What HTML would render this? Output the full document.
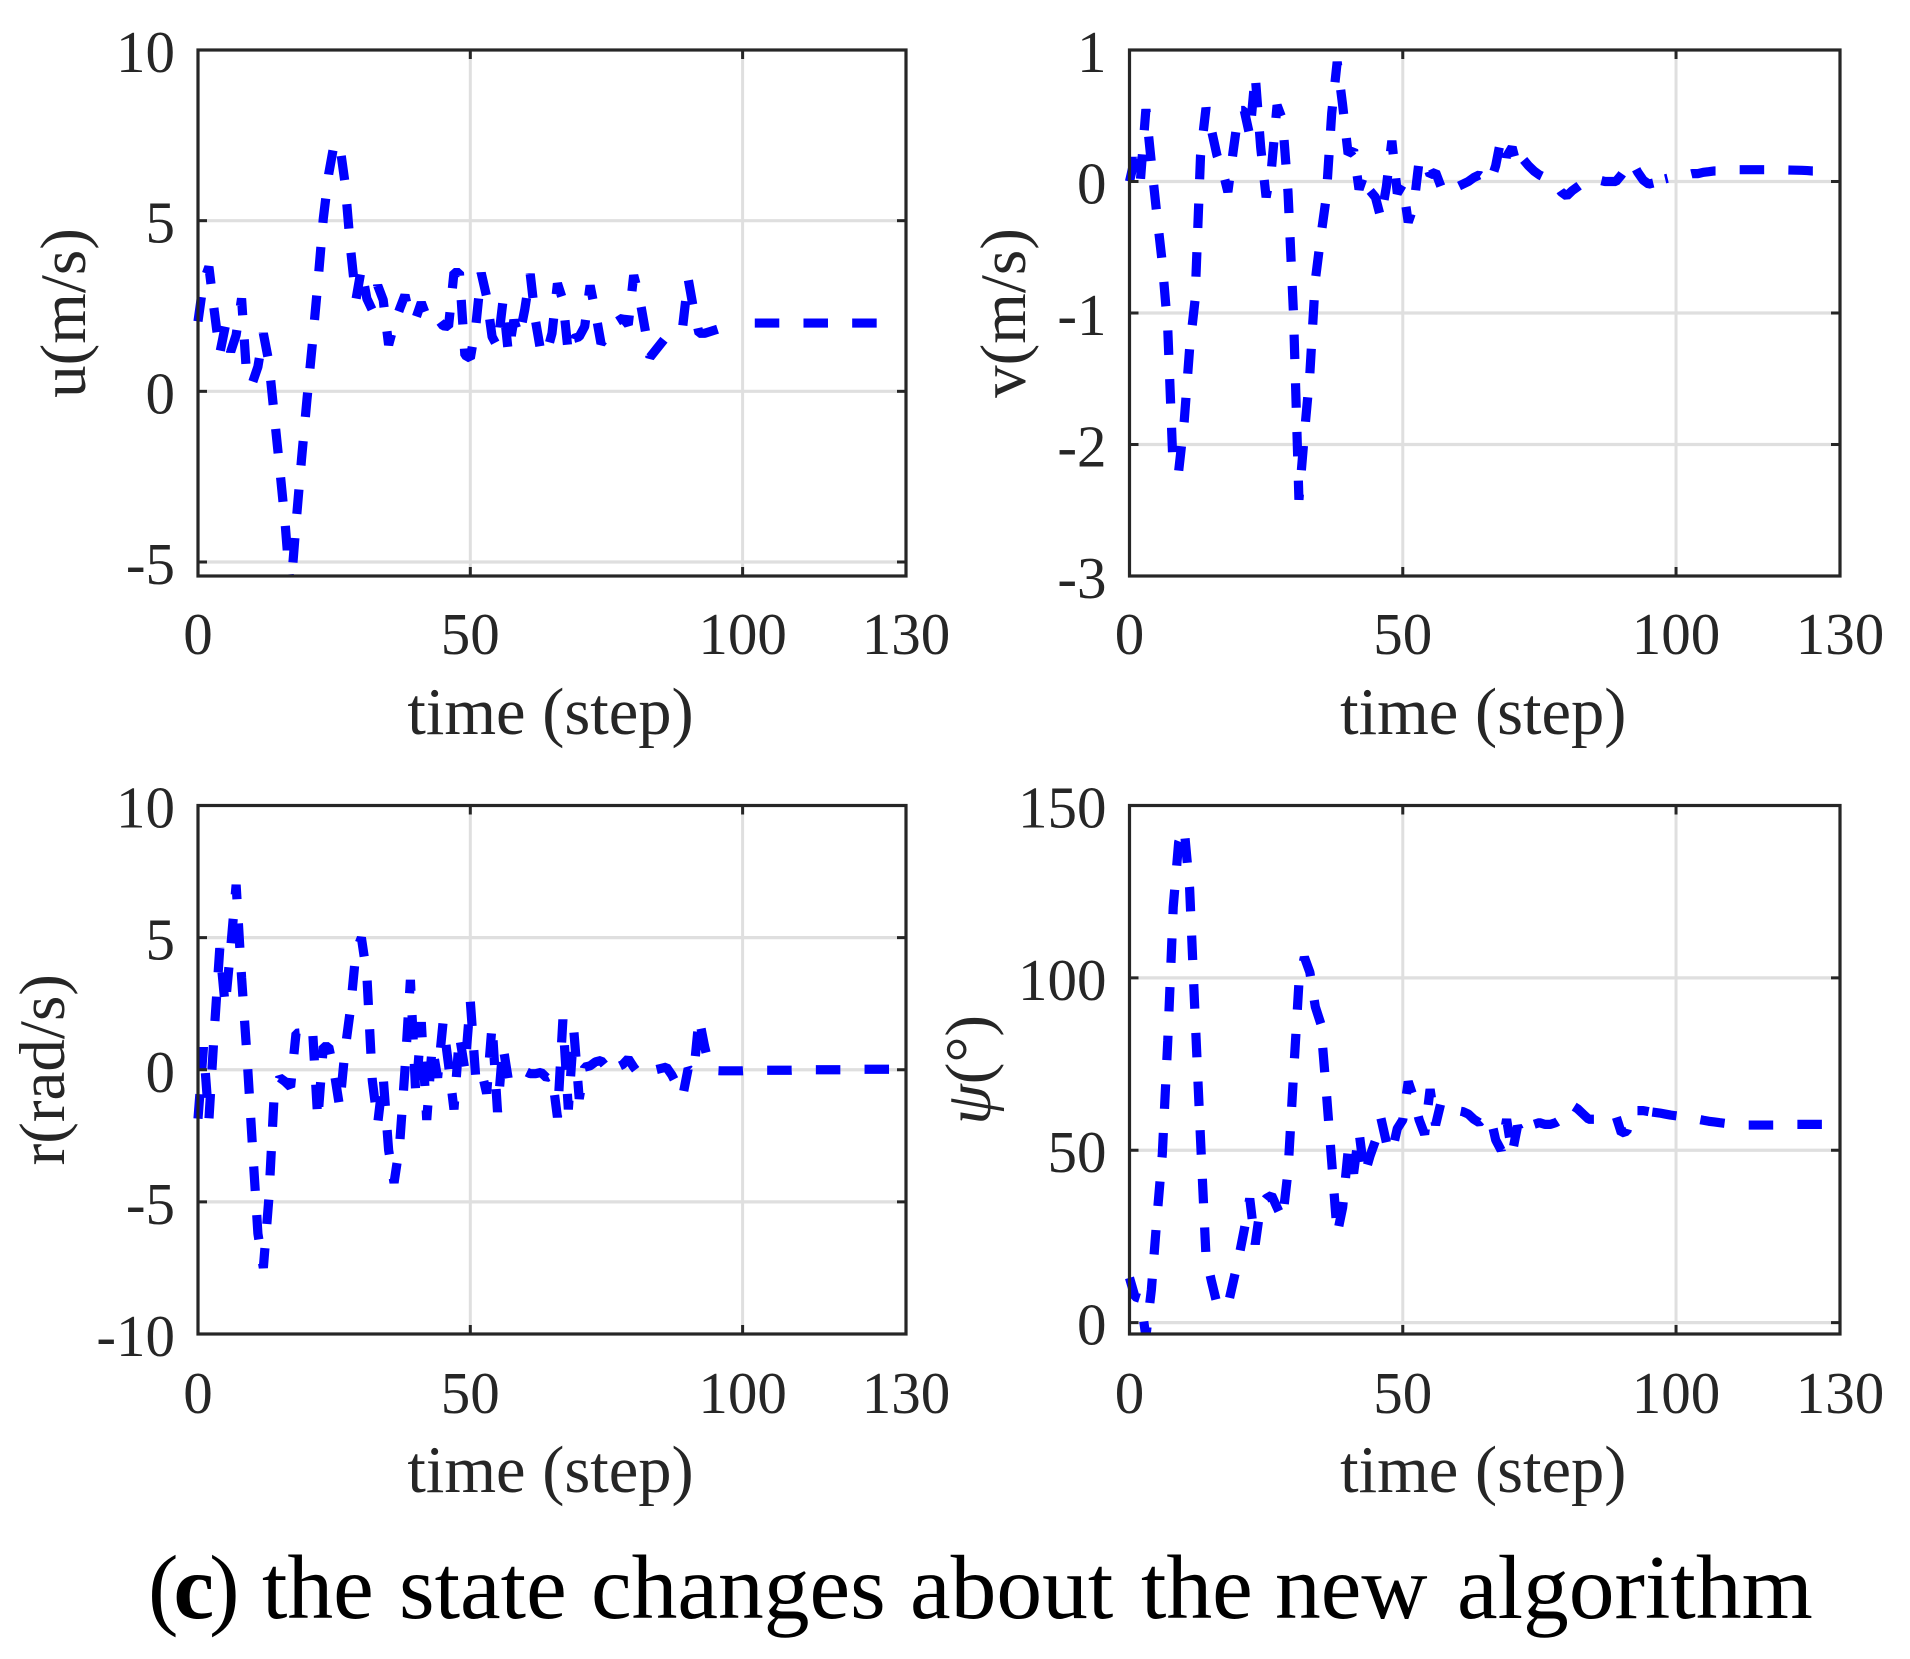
<!DOCTYPE html>
<html lang="en">
<head>
<meta charset="utf-8">
<title>State changes about the new algorithm</title>
<style>
html,body{margin:0;padding:0;background:#fff;}
svg{display:block;}
text{font-family:"Liberation Serif","Noto Serif CJK SC",serif;fill:#262626;}
</style>
</head>
<body>
<svg id="figure" xmlns="http://www.w3.org/2000/svg" width="1910" height="1659" viewBox="0 0 1910 1659">
  <rect x="0" y="0" width="1910" height="1659" fill="#ffffff"/>
  <g id="panel-u"></g>
  <g id="panel-v"></g>
  <g id="panel-r"></g>
  <g id="panel-psi"></g>
  <text y="1618" font-size="91.5" style="fill:#000"><tspan x="148" letter-spacing="-5">(<tspan font-weight="bold">c</tspan>)</tspan><tspan x="262">the</tspan><tspan x="399">state</tspan><tspan x="591">changes</tspan><tspan x="910">about</tspan><tspan x="1141">the</tspan><tspan x="1275">new</tspan><tspan x="1457">algorithm</tspan></text>
</svg>
<script>
const timeTicks = [0, 50, 100, 130];
const uTicks = [10, 5, 0, -5];
const vTicks = [1, 0, -1, -2, -3];
const rTicks = [10, 5, 0, -5, -10];
const psiTicks = [150, 100, 50, 0];

const uValues = [
  2.05, 3.2, 3.65, 2.34, 1.11, 1.9, 1.16, 1.65, 2.72, 0.3,
  0.25, 0.72, 1.7, 0.87, -0.7, -2.25, -3.87, -5.9, -3.87, -2.0,
  -0.25, 1.4, 3.16, 5.05, 6.37, 7.25, 7.25, 6.1, 4.2, 2.68,
  3.6, 2.72, 2.38, 3.1, 2.68, 1.36, 1.95, 2.4, 2.82, 2.14,
  2.14, 2.6, 2.17, 2.28, 2.13, 1.92, 1.9, 3.48, 3.48, 1.06,
  0.97, 1.9, 3.47, 2.77, 1.6, 1.3, 2.65, 1.11, 2.09, 1.6,
  2.4, 3.44, 2.04, 1.11, 1.11, 1.7, 3.16, 2.67, 1.11, 1.55,
  1.6, 1.9, 3.1, 2.3, 1.4, 1.6, 1.85, 2.05, 2.15, 1.95,
  3.4, 2.8, 1.9, 1.0, 1.2, 1.4, 1.6, 1.7, 1.8, 1.9,
  3.3, 2.4, 1.7, 1.7, 1.75, 1.8, 1.85, 1.9, 1.95, 1.97,
  2, 2, 2, 2, 2, 2, 2, 2, 2, 2,
  2, 2, 2, 2, 2, 2, 2, 2, 2, 2,
  2, 2, 2, 2, 2, 2, 2, 2
];
const vValues = [
  0, 0.18, 0.01, 0.55, 0.14, -0.25, -0.62, -1.12, -2.2, -2.2,
  -1.83, -1.27, -0.9, 0.2, 0.56, 0.39, 0.2, 0.09, -0.08, 0.24,
  0.54, 0.54, 0.35, 0.81, 0.26, -0.12, 0.11, 0.58, 0.47, -0.08,
  -1, -2.42, -1.92, -1.46, -0.75, -0.42, -0.12, 0.52, 0.91, 0.58,
  0.21, 0.24, -0.06, 0.06, -0.07, -0.12, -0.28, -0.04, 0.31, -0.09,
  -0.02, -0.31, -0.19, 0.16, 0.17, 0.05, 0.07, -0.04, -0.09, -0.05,
  -0.04, -0.02, 0, 0.03, 0.05, 0.02, -0.01, 0.12, 0.33, 0.19,
  0.26, 0.1, 0.17, 0.12, 0.08, 0.05, 0.03, 0, -0.02, -0.08,
  -0.11, -0.07, -0.04, -0.01, 0.01, 0.02, 0.01, 0, 0, 0,
  0.05, 0.11, 0.15, 0.07, 0.01, -0.02, -0.01, 0.01, 0.02, 0.03,
  0.04, 0.05, 0.05, 0.06, 0.06, 0.07, 0.075, 0.08, 0.08, 0.085,
  0.09, 0.09, 0.09, 0.09, 0.09, 0.09, 0.09, 0.09, 0.09, 0.09,
  0.088, 0.087, 0.086, 0.085, 0.083, 0.08, 0.08, 0.08
];
const rValues = [
  -1.85, 0.85, -1.9, 1.5, 4.6, 2.4, 4.6, 7, 3.5, 0.5,
  -2.9, -6.2, -7.5, -4.9, -0.9, -0.3, -0.45, -0.65, 1.38, 1.4,
  1.44, 1.63, -1.9, 0.87, 0.87, -0.08, -1.4, 0.75, 2.3, 4.47,
  5, 3.6, -0.4, -2.03, -0.27, -3.04, -4.28, -2.9, -0.01, 3.4,
  -1, 1.8, -1.9, 0.9, -0.3, 1.8, 0.2, -1.5, 1.3, 0,
  2.6, -0.3, 0, -0.9, 1.7, -1.6, 0.9, -0.4, -0.15, -0.1,
  -0.05, -0.15, -0.15, -0.1, -0.3, -0.2, -1.8, 1.9, -1.5, 1.5,
  -1.1, 0.1, 0.15, 0.3, 0.35, 0.1, -0.17, 0.1, 0.2, 0.42,
  0.1, -0.17, -0.05, 0, 0, 0.05, 0.1, -0.2, -0.6, -1,
  0.04, -0.17, 1.95, 0.9, 0.04, -0.03, -0.04, -0.04, -0.04, -0.04,
  -0.04, -0.03, -0.03, -0.03, -0.02, -0.02, -0.02, -0.02, -0.02, -0.02,
  -0.01, -0.01, -0.01, 0, 0, 0, 0, 0, 0, 0.01,
  0.01, 0.01, 0.02, 0.02, 0.02, 0.02, 0.02, 0.02
];
const psiValues = [
  13, 7.5, 7, -4, 9.5, 30, 48.8, 81.7, 120.5, 139.4,
  143.4, 126, 89, 53, 19, 12, 5.5, 4.5, 5, 12,
  19, 27, 36, 22.7, 34, 36, 36.9, 33.4, 30, 43.8,
  71.7, 98.6, 106, 101.6, 91.6, 86.7, 67.2, 46.6, 25.7, 33.4,
  49.8, 43.3, 55.3, 42.8, 48.3, 52.8, 59.3, 52.3, 49.3, 56.3,
  58.8, 69.9, 65.2, 58.8, 54.6, 67.7, 57.3, 63.9, 62.7, 62,
  61.5, 61.2, 60.5, 59, 58, 59.5, 60, 53, 50, 59,
  49, 57, 54, 56, 57.5, 58, 57.5, 57.5, 58, 59,
  61, 63, 62, 60.5, 59, 59, 59.5, 60, 60, 60,
  55, 55.5, 61.5, 61.5, 61.5, 61.2, 61, 60.8, 60.5, 60.2,
  60, 59.8, 59.5, 59.2, 59, 58.7, 58.4, 58.2, 58, 57.8,
  57.6, 57.5, 57.4, 57.3, 57.3, 57.3, 57.3, 57.3, 57.3, 57.3,
  57.4, 57.4, 57.5, 57.5, 57.5, 57.5, 57.5, 57.5
];

const SVG_NS = 'http://www.w3.org/2000/svg';
const AXIS_COLOR = '#262626';
const GRID_COLOR = '#dfdfdf';
const TICK_LEN = 9;
const X_MAX = 130;
const DASH_PATTERN = '24.5 24.2';

function make(tag, parent, attrs) {
  const node = document.createElementNS(SVG_NS, tag);
  Object.keys(attrs).forEach(function (k) { node.setAttribute(k, attrs[k]); });
  parent.appendChild(node);
  return node;
}

function drawPanel(cfg) {
  const g = document.getElementById(cfg.id);
  const xScale = function (t) { return cfg.left + (t / X_MAX) * (cfg.right - cfg.left); };
  const yScale = function (v) { return cfg.top + ((cfg.yMax - v) / (cfg.yMax - cfg.yMin)) * (cfg.bottom - cfg.top); };

  // gridlines
  timeTicks.forEach(function (t) {
    if (t === 0 || t === X_MAX) return;
    const el = make('line', g, { x1: xScale(t), x2: xScale(t), y1: cfg.top, y2: cfg.bottom, stroke: GRID_COLOR, 'stroke-width': 3 });
    
    
  });
  cfg.ticks.forEach(function (v) {
    if (v === cfg.yMax || v === cfg.yMin) return;
    const el = make('line', g, { x1: cfg.left, x2: cfg.right, y1: yScale(v), y2: yScale(v), stroke: GRID_COLOR, 'stroke-width': 3.2 });
    
    
  });

  // series: oscillating part and settled tail, each with its own dash phase
  const clipId = cfg.id + '-clip';
  const defs = make('defs', g, {});
  const clip = make('clipPath', defs, { id: clipId });
  make('rect', clip, { x: cfg.left - 6, y: cfg.top, width: cfg.right - cfg.left + 6, height: cfg.bottom - cfg.top });
  const buildPath = function (from, to) {
    let d = '';
    for (let t = from; t <= to; t++) {
      d += (t === from ? 'M' : 'L') + xScale(t).toFixed(2) + ' ' + yScale(cfg.values[t]).toFixed(2);
    }
    return d;
  };
  const seriesStyle = {
    fill: 'none', stroke: '#0000ff', 'stroke-width': 9.2,
    'stroke-dasharray': DASH_PATTERN, 'stroke-linecap': 'butt', 'stroke-linejoin': 'bevel',
    'clip-path': 'url(#' + clipId + ')'
  };
  const head = make('path', g, Object.assign({ d: buildPath(0, cfg.tailStep) }, seriesStyle));
  
  
  const tail = make('path', g, Object.assign({ d: buildPath(cfg.tailStep, cfg.values.length - 1), 'stroke-dashoffset': cfg.tailPhase }, seriesStyle));
  
  

  // frame
  const frame = make('rect', g, { x: cfg.left, y: cfg.top, width: cfg.right - cfg.left, height: cfg.bottom - cfg.top, fill: 'none', stroke: AXIS_COLOR, 'stroke-width': 3.2 });
  
  

  // x ticks + labels
  timeTicks.forEach(function (t) {
    const x = xScale(t);
    const bottomTick = make('line', g, { x1: x, x2: x, y1: cfg.bottom, y2: cfg.bottom - TICK_LEN, stroke: AXIS_COLOR, 'stroke-width': 3 });
    
    
    const topTick = make('line', g, { x1: x, x2: x, y1: cfg.top, y2: cfg.top + TICK_LEN, stroke: AXIS_COLOR, 'stroke-width': 3 });
    
    
    const label = make('text', g, { x: x, y: cfg.xTickBaseline, 'text-anchor': 'middle', 'font-size': 59 });
    label.textContent = String(t);
    
    
  });

  // y ticks + labels
  cfg.ticks.forEach(function (v) {
    const y = yScale(v);
    const leftTick = make('line', g, { x1: cfg.left, x2: cfg.left + TICK_LEN, y1: y, y2: y, stroke: AXIS_COLOR, 'stroke-width': 3 });
    
    
    const rightTick = make('line', g, { x1: cfg.right, x2: cfg.right - TICK_LEN, y1: y, y2: y, stroke: AXIS_COLOR, 'stroke-width': 3 });
    
    
    const label = make('text', g, { x: cfg.left - 23, y: y + 22, 'text-anchor': 'end', 'font-size': 59 });
    label.textContent = String(v);
    
    
  });

  // axis titles
  const xTitle = make('text', g, { x: (cfg.left + cfg.right) / 2 - 1.5, y: cfg.xTitleBaseline, 'text-anchor': 'middle', 'font-size': 66.5 });
  xTitle.textContent = 'time (step)';
  
  

  const yTitle = make('text', g, { transform: 'translate(' + cfg.yTitleX + ',' + ((cfg.top + cfg.bottom) / 2) + ') rotate(-90)', 'text-anchor': 'middle', 'font-size': 65 });
  if (cfg.psiTitle) {
    const sym = make('tspan', yTitle, { 'font-style': 'italic' });
    sym.textContent = '\u03C8';
    const rest = make('tspan', yTitle, {});
    rest.textContent = '(\u00B0)';
  } else {
    yTitle.textContent = cfg.title;
  }
  
  
}

drawPanel({ id: 'panel-u', left: 198, right: 906, top: 50, bottom: 576, yMax: 10, yMin: -5.41, ticks: uTicks, values: uValues, title: 'u(m/s)', yTitleX: 85, xTickBaseline: 654, xTitleBaseline: 734, tailStep: 98, tailPhase: 25.5 });
drawPanel({ id: 'panel-v', left: 1129.5, right: 1840, top: 50, bottom: 576, yMax: 1, yMin: -3, ticks: vTicks, values: vValues, title: 'v(m/s)', yTitleX: 1025, xTickBaseline: 654, xTitleBaseline: 734, tailStep: 98, tailPhase: 21.9 });
drawPanel({ id: 'panel-r', left: 198, right: 906, top: 805.5, bottom: 1334, yMax: 10, yMin: -10, ticks: rTicks, values: rValues, title: 'r(rad/s)', yTitleX: 64, xTickBaseline: 1413, xTitleBaseline: 1492, tailStep: 95, tailPhase: 45.6 });
drawPanel({ id: 'panel-psi', left: 1129.5, right: 1840, top: 805.5, bottom: 1334, yMax: 150, yMin: -3.3, ticks: psiTicks, values: psiValues, psiTitle: true, yTitleX: 990, xTickBaseline: 1413, xTitleBaseline: 1492, tailStep: 95, tailPhase: 45.1 });
</script>
</body>
</html>
